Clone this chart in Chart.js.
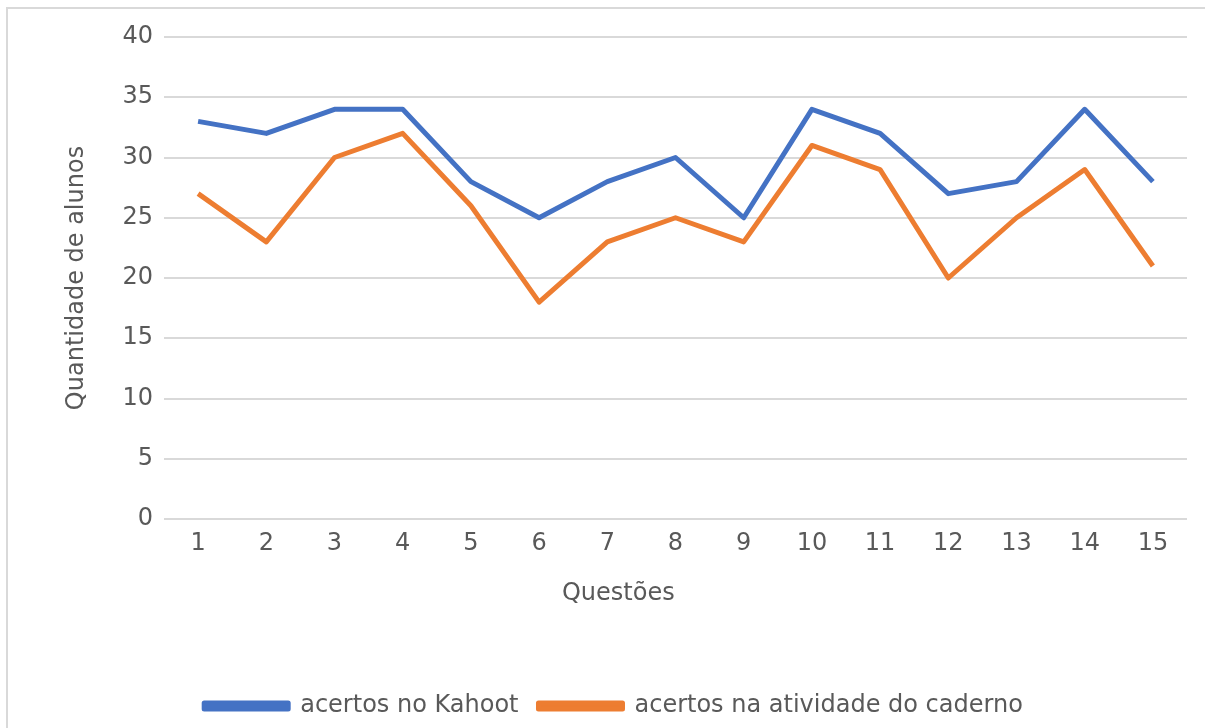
<!DOCTYPE html>
<html>
<head>
<meta charset="utf-8">
<script src="https://cdn.jsdelivr.net/npm/chart.js@4"></script>
<style>
    html, body { margin: 0; padding: 0; background: #fff; overflow: hidden; }
</style>
</head>
<body>
<canvas id="chart" width="1205" height="728"></canvas>
<script>
const questoes = ["1", "2", "3", "4", "5", "6", "7", "8", "9", "10", "11", "12", "13", "14", "15"];
const acertosKahoot = [33, 32, 34, 34, 28, 25, 28, 30, 25, 34, 32, 27, 28, 34, 28];
const acertosCaderno = [27, 23, 30, 32, 26, 18, 23, 25, 23, 31, 29, 20, 25, 29, 21];
const yTicks = [0, 5, 10, 15, 20, 25, 30, 35, 40];

const textColor = "#595959";
const gridColor = "#d9d9d9";
const font = { family: "DejaVu Sans", size: 24 };

Chart.defaults.animation = false;

// outer chart frame (only the left and top edges fall inside the picture)
const framePlugin = {
    id: "frame",
    beforeDraw(chart) {
        const ctx = chart.ctx;
        ctx.save();
        ctx.strokeStyle = gridColor;
        ctx.lineWidth = 2;
        ctx.beginPath();
        ctx.moveTo(7, chart.height);
        ctx.lineTo(7, 8);
        ctx.lineTo(chart.width, 8);
        ctx.stroke();
        ctx.restore();
    },
};

new Chart(document.getElementById("chart"), {
    type: "line",
    data: {
        labels: questoes,
        datasets: [
            {
                label: "acertos no Kahoot",
                data: acertosKahoot,
                borderColor: "#4472C4",
                backgroundColor: "#4472C4",
                borderWidth: 5,
                pointRadius: 0,
                borderJoinStyle: "round",
                fill: false,
            },
            {
                label: "acertos na atividade do caderno",
                data: acertosCaderno,
                borderColor: "#ED7D31",
                backgroundColor: "#ED7D31",
                borderWidth: 5,
                pointRadius: 0,
                borderJoinStyle: "round",
                fill: false,
            },
        ],
    },
    plugins: [framePlugin],
    options: {
        responsive: false,
        layout: { padding: { left: 40, top: 37, right: 18, bottom: 0 } },
        plugins: {
            legend: {
                position: "bottom",
                labels: {
                    color: textColor,
                    font: font,
                    boxWidth: 84,
                    boxHeight: 6,
                    padding: 20,
                },
            },
            tooltip: { enabled: false },
        },
        scales: {
            x: {
                offset: true,
                grid: { display: false, drawTicks: false },
                border: { display: false },
                ticks: { color: textColor, font: font, padding: 10, maxRotation: 0 },
                title: {
                    display: true,
                    // trailing spaces push the title a bit left, as in the original
                    text: "Questões               ",
                    color: textColor,
                    font: font,
                    padding: { top: 0, bottom: 66 },
                },
                afterFit: (scale) => { scale.height = 155; },
            },
            y: {
                min: 0,
                max: 40,
                afterBuildTicks: (scale) => { scale.ticks = yTicks.map((v) => ({ value: v })); },
                grid: { color: gridColor, lineWidth: 2, drawTicks: false },
                border: { display: false },
                ticks: { color: textColor, font: font, padding: 11 },
                title: {
                    display: true,
                    text: "Quantidade de alunos",
                    color: textColor,
                    font: font,
                    padding: { top: 22, bottom: 0 },
                },
                afterFit: (scale) => { scale.width = 124; },
            },
        },
    },
});
</script>
</body>
</html>
